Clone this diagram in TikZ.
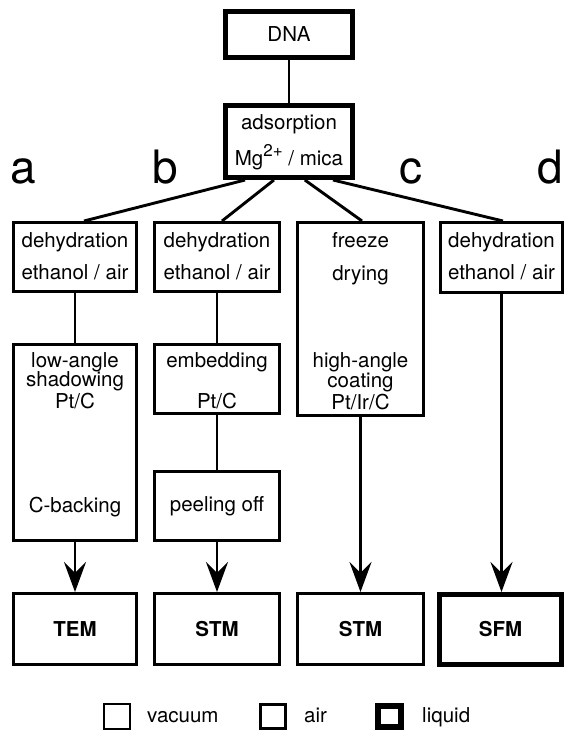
\documentclass[tikz,border=0pt]{standalone}
\usepackage{fontspec}
\setmainfont{TeX Gyre Heros}
\usetikzlibrary{arrows.meta,calc}
\newcommand\dtxt{\fontsize{20.5pt}{24pt}\selectfont}
\newcommand\bigtxt{\fontsize{46pt}{50pt}\selectfont}
\begin{document}
\begin{tikzpicture}[x=1pt,y=-1pt,
  box/.style={draw, line width=2.7pt, inner sep=0pt, font=\dtxt},
  thickbox/.style={box, line width=4.6pt},
  lbl/.style={font=\dtxt, inner sep=0pt, anchor=base},
  letter/.style={font=\bigtxt, inner sep=0pt, anchor=base},
  conn/.style={line width=2.9pt},
  arr/.style={conn, -{Stealth[length=30pt,width=22pt,inset=11pt]}},
  vacbox/.style={draw, line width=2.4pt, inner sep=0pt, minimum width=25.6pt, minimum height=24.6pt},
  airbox/.style={draw, line width=3.2pt, inner sep=0pt, minimum width=24.8pt, minimum height=23.8pt},
  liqbox/.style={draw, line width=6pt, inner sep=0pt, minimum width=23pt, minimum height=21pt},
  legtxt/.style={font=\dtxt, inner sep=0pt, anchor=base west}
]
\useasboundingbox (0,0) rectangle (565,733);

% top
\node[thickbox, minimum width=127.4pt, minimum height=46.4pt] (dna) at (289,34.5) {DNA};
\node[thickbox, minimum width=127.4pt, minimum height=72.4pt] (ads) at (289,141.5) {};
\node[lbl] (ads1) at (289,130) {adsorption};
\node[lbl] (ads2) at (289,165) {Mg\raisebox{8.5pt}{\fontsize{17pt}{17pt}\selectfont 2+} / mica};

% letters
\node[letter] (la) at (23.5,183) {a};
\node[letter] (lb) at (165,183) {b};
\node[letter] (lc) at (410.5,183) {c};
\node[letter] (ld) at (550,183) {d};

% row 2
\node[box, minimum width=123.3pt, minimum height=69.3pt] (rowa) at (75,257) {};
\node[box, minimum width=125.3pt, minimum height=69.3pt] (rowb) at (217,257) {};
\node[box, minimum width=126.3pt, minimum height=193.3pt] (boxc) at (360.5,319) {};
\node[box, minimum width=122.3pt, minimum height=70.3pt] (rowd) at (501.5,257.5) {};

\node[lbl] (ta1) at (75,247) {dehydration};
\node[lbl] (ta2) at (75,279) {ethanol / air};
\node[lbl] (tb1) at (217,247) {dehydration};
\node[lbl] (tb2) at (217,279) {ethanol / air};
\node[lbl] (tc1) at (360.5,247) {freeze};
\node[lbl] (tc2) at (360.5,280) {drying};
\node[lbl] (tc3) at (360.5,367) {high-angle};
\node[lbl] (tc4) at (360.5,387) {coating};
\node[lbl] (tc5) at (360.5,409) {Pt/Ir/C};
\node[lbl] (td1) at (501.5,247) {dehydration};
\node[lbl] (td2) at (501.5,279) {ethanol / air};

% row 3
\node[box, minimum width=123.3pt, minimum height=196.3pt] (lowa) at (75,442.5) {};
\node[lbl] (la1) at (75,367) {low-angle};
\node[lbl] (la2) at (75,386) {shadowing};
\node[lbl] (la3) at (75,408) {Pt/C};
\node[lbl] (la4) at (75,512) {C-backing};

\node[box, minimum width=125.3pt, minimum height=69.3pt] (embb) at (217,379) {};
\node[lbl] (eb1) at (217,367) {embedding};
\node[lbl] (eb2) at (217,408) {Pt/C};

\node[box, minimum width=125.3pt, minimum height=69.3pt] (peelb) at (217,506) {peeling off};

% bottom
\node[box, minimum width=123.3pt, minimum height=71.3pt] (tem) at (75,629) {\bfseries TEM};
\node[box, minimum width=125.3pt, minimum height=71.3pt] (stmb) at (217,629) {\bfseries STM};
\node[box, minimum width=126.3pt, minimum height=71.3pt] (stmc) at (360.5,629) {\bfseries STM};
\node[thickbox, minimum width=122.4pt, minimum height=70.4pt] (sfm) at (500.5,629.5) {\bfseries SFM};

% connectors
\draw[conn] (dna) -- (ads);
\draw[conn] ($(ads.south west)!0.167!(ads.south east)$) -- ($(rowa.north)+(9,0)$);
\draw[conn] ($(ads.south west)!0.386!(ads.south east)$) -- ($(rowb.north)+(5,0)$);
\draw[conn] ($(ads.south west)!0.62!(ads.south east)$) -- ($(boxc.north)+(1.5,0)$);
\draw[conn] ($(ads.south west)!0.833!(ads.south east)$) -- ($(rowd.north)+(1.5,0)$);

\draw[conn] (rowa) -- (lowa);
\draw[conn] (rowb) -- (embb);
\draw[conn] (embb) -- (peelb);
\draw[arr] (lowa.south) -- (tem.north);
\draw[arr] (peelb.south) -- (stmb.north);
\draw[arr] (boxc.south) -- (stmc.north);
\draw[arr] (rowd.south) -- (rowd.south |- sfm.north);

% legend
\node[vacbox] (kv) at (117,716.5) {};
\node[legtxt] (kvt) at (147,722) {vacuum};
\node[airbox] (ka) at (273,716.5) {};
\node[legtxt] (kat) at (304,722) {air};
\node[liqbox] (kl) at (389.5,716.5) {};
\node[legtxt] (klt) at (422,722) {liquid};
\end{tikzpicture}
\end{document}
